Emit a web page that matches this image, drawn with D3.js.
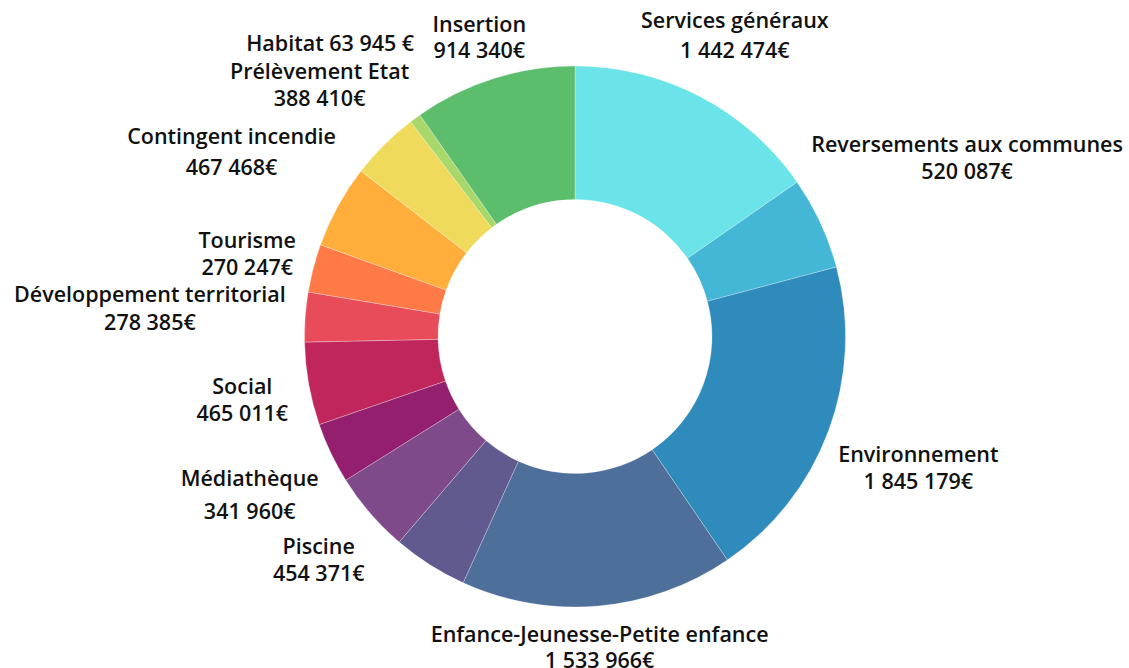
<!DOCTYPE html>
<html>
<head>
<meta charset="utf-8">
<script src="https://cdn.jsdelivr.net/npm/d3@7"></script>
<style>
  body { margin: 0; background: #fff; }
  text { font-family: "Open Sans", Lato, sans-serif; font-weight: 600; fill: #111; }
</style>
</head>
<body>
<div id="chart"></div>
<script>
// budget lines, clockwise from 12 o'clock
var categories = ["Services généraux", "Reversements aux communes", "Environnement",
    "Enfance-Jeunesse-Petite enfance", "", "Piscine", "Médiathèque", "Social",
    "Développement territorial", "Tourisme", "Contingent incendie", "Prélèvement Etat",
    "Habitat", "Insertion"];
var values = [1442474, 520087, 1845179, 1533966, 421000, 454371, 341960, 465011,
    278385, 270247, 467468, 388410, 63945, 914340];

var colors = ["#6ae4e8", "#43b7d5", "#2e8bbb", "#4e6f9a", "#605a8e", "#7e4a8a", "#931f6e",
    "#c0265b", "#e84c5a", "#ff7a47", "#ffae3b", "#f0da5b", "#a9d86a", "#5cbd6d"];

// label tweaks (px) from the default spot on the label ring, and line spacing
var labelNudge = [[0, 4], [79, -35], [20, 10], [-5, -34], [0, 0], [5, -3], [-14, 9], [7, 2],
    [-81, -4], [6, 4], [-41, -20], [-12, -8], [-41, -16], [8, 29]];
var lineGaps = [30, 27, 27, 26, 0, 27, 33, 27, 28, 27, 31, 27, 0, 26];

var width = 1129, height = 668,
    cx = 575, cy = 336.5,
    outerR = 270.5, innerR = 137,
    labelR = 345;

var data = categories.map(function (c, i) {
    return { name: c, value: values[i], color: colors[i], nudge: labelNudge[i], gap: lineGaps[i] };
});

var svg = d3.select("#chart")
    .append("svg")
    .attr("width", width)
    .attr("height", height)
    .append("g")
    .attr("transform", "translate(" + cx + "," + cy + ")");

var pie = d3.pie().sort(null).value(function (d) { return d.value; });
var arc = d3.arc().innerRadius(innerR).outerRadius(outerR);
var arcs = pie(data);

svg.selectAll("path")
    .data(arcs)
    .enter().append("path")
    .attr("d", arc)
    .attr("fill", function (d) { return d.data.color; })
    .attr("stroke", "#fff")
    .attr("stroke-opacity", 0.45)
    .attr("stroke-width", 0.6);

var fmt = function (v) { return d3.format(",")(v).replace(/,/g, " "); };

function labelLines(d) {
    if (d.name == "Habitat") return [d.name + " " + fmt(d.value) + " €"];
    return [d.name, fmt(d.value) + "€"];
}

var labels = svg.selectAll(".label")
    .data(arcs.filter(function (d) { return d.data.name != ""; }))
    .enter().append("text")
    .attr("class", "label")
    .attr("text-anchor", "middle")
    .attr("font-size", 21.5)
    .attr("transform", function (d) {
        var a = (d.startAngle + d.endAngle) / 2;
        var x = labelR * Math.sin(a) + d.data.nudge[0];
        var y = -labelR * Math.cos(a) + d.data.nudge[1];
        return "translate(" + x + "," + y + ")";
    });

labels.selectAll("tspan")
    .data(function (d) {
        var lines = labelLines(d.data);
        return lines.map(function (t, i) {
            return { text: t, dy: (i - (lines.length - 1) / 2) * d.data.gap };
        });
    })
    .enter().append("tspan")
    .attr("x", 0)
    .attr("y", function (t) { return t.dy; })
    .attr("dominant-baseline", "central")
    .text(function (t) { return t.text; });
</script>
</body>
</html>
